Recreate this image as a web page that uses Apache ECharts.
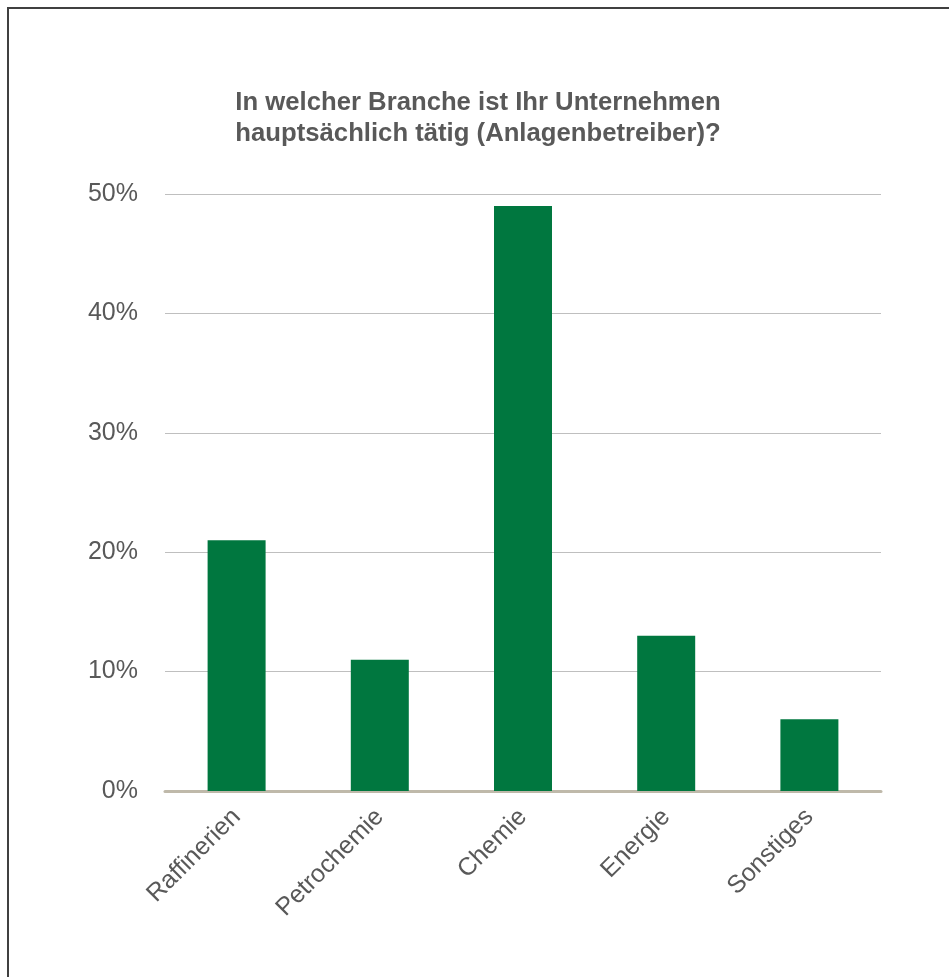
<!DOCTYPE html>
<html>
<head>
<meta charset="utf-8">
<script src="https://cdn.jsdelivr.net/npm/echarts@6/dist/echarts.min.js"></script>
<style>
  html, body { margin: 0; padding: 0; background: #fff; }
  #chart { width: 949px; height: 977px; }
  #frame {
    position: absolute; left: 7px; top: 7px; right: 0; bottom: 0;
    border-top: 2px solid #404040; border-left: 2px solid #404040;
    pointer-events: none;
  }
</style>
</head>
<body>
<div id="chart"></div>
<div id="frame"></div>
<script>
const categories = ["Raffinerien", "Petrochemie", "Chemie", "Energie", "Sonstiges"];
const shares = [21, 11, 49, 13, 6];
const titleText = "In welcher Branche ist Ihr Unternehmen\nhauptsächlich tätig (Anlagenbetreiber)?";

const chart = echarts.init(document.getElementById("chart"));
chart.setOption({
  animation: false,
  title: {
    text: titleText,
    left: 473,
    textAlign: "center",
    top: 82,
    textStyle: {
      fontFamily: "Liberation Sans, Arial, sans-serif",
      fontSize: 25.7,
      fontWeight: "bold",
      color: "#595959",
      lineHeight: 31
    }
  },
  grid: { left: 165, right: 68, top: 194, bottom: 186 },
  xAxis: {
    type: "category",
    data: categories,
    axisTick: { show: false },
    axisLine: { lineStyle: { color: "#bfb9aa", width: 3 } },
    axisLabel: {
      rotate: 45,
      interval: 0,
      margin: 22,
      fontFamily: "Liberation Sans, Arial, sans-serif",
      fontSize: 25,
      color: "#595959"
    }
  },
  yAxis: {
    type: "value",
    min: 0,
    max: 50,
    interval: 10,
    axisLine: { show: false },
    axisTick: { show: false },
    splitLine: { lineStyle: { color: "#bfbfbf", width: 1 } },
    axisLabel: {
      formatter: "{value}%",
      margin: 27,
      fontFamily: "Liberation Sans, Arial, sans-serif",
      fontSize: 25,
      color: "#595959"
    }
  },
  series: [{
    type: "bar",
    data: shares,
    barWidth: "40.5%",
    itemStyle: { color: "#00773f" }
  }]
});
</script>
</body>
</html>
